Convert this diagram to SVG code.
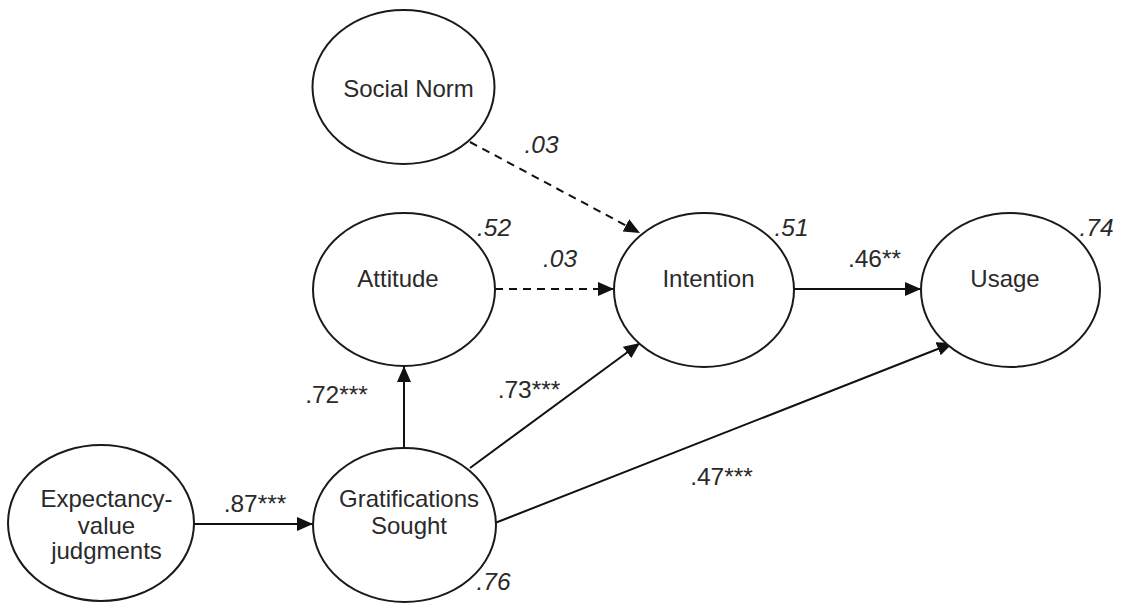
<svg xmlns="http://www.w3.org/2000/svg" width="1132" height="603" viewBox="0 0 1132 603">
  <style>
    .node ellipse { fill: #ffffff; stroke: #1a1a1a; stroke-width: 2; }
    .node text { font-family: "Liberation Sans", Arial, sans-serif; font-size: 24px; fill: #2a2a2a; text-anchor: middle; }
    .edge { stroke: #111111; stroke-width: 2; fill: none; marker-end: url(#arrow); }
    .dashed { stroke-dasharray: 8 6; }
    .lbl { font-family: "Liberation Sans", Arial, sans-serif; font-size: 24.5px; fill: #2a2a2a; text-anchor: middle; }
    .r2 { font-style: italic; }
  </style>
  <defs>
    <marker id="arrow" markerUnits="userSpaceOnUse" markerWidth="17" markerHeight="15" refX="16" refY="7" orient="auto">
      <path d="M0,0 L16,7 L0,14 Z" fill="#111111"/>
    </marker>
  </defs>
  <rect width="1132" height="603" fill="#ffffff"/>

  <g id="connectors">
    <line class="edge dashed" x1="470" y1="142" x2="640" y2="233"/>
    <line class="edge dashed" x1="495" y1="289" x2="614" y2="289"/>
    <line class="edge" x1="794" y1="289" x2="921" y2="289"/>
    <line class="edge" x1="194" y1="524" x2="313" y2="524"/>
    <line class="edge" x1="404" y1="448" x2="404" y2="366"/>
    <line class="edge" x1="470" y1="468" x2="640" y2="343"/>
    <line class="edge" x1="495" y1="523" x2="953" y2="343"/>
  </g>

  <g id="social-norm" class="node">
    <ellipse cx="403.5" cy="87" rx="91" ry="77"/>
    <text x="408.5" y="97">Social Norm</text>
  </g>
  <g id="attitude" class="node">
    <ellipse cx="404" cy="289.5" rx="91" ry="76.5"/>
    <text x="398" y="287">Attitude</text>
  </g>
  <g id="intention" class="node">
    <ellipse cx="704" cy="290" rx="90" ry="77"/>
    <text x="708.5" y="287">Intention</text>
  </g>
  <g id="usage" class="node">
    <ellipse cx="1010.5" cy="290" rx="89.5" ry="77"/>
    <text x="1005" y="287">Usage</text>
  </g>
  <g id="expectancy-value" class="node">
    <ellipse cx="101" cy="523" rx="93" ry="78"/>
    <text x="106.5" y="507">Expectancy-</text>
    <text x="106.5" y="534">value</text>
    <text x="106.5" y="559">judgments</text>
  </g>
  <g id="gratifications-sought" class="node">
    <ellipse cx="404.5" cy="525" rx="91.5" ry="77"/>
    <text x="409" y="507">Gratifications</text>
    <text x="409" y="534">Sought</text>
  </g>

  <g id="labels">
    <text class="lbl r2" x="541.5" y="153">.03</text>
    <text class="lbl r2" x="560" y="267">.03</text>
    <text class="lbl r2" x="494" y="236">.52</text>
    <text class="lbl r2" x="791.5" y="236">.51</text>
    <text class="lbl r2" x="1096.5" y="236">.74</text>
    <text class="lbl r2" x="493.5" y="590">.76</text>
    <text class="lbl" x="874.5" y="267">.46**</text>
    <text class="lbl" x="336.5" y="403">.72***</text>
    <text class="lbl" x="255" y="512">.87***</text>
    <text class="lbl" x="529" y="398">.73***</text>
    <text class="lbl" x="721.5" y="485">.47***</text>
  </g>
</svg>
